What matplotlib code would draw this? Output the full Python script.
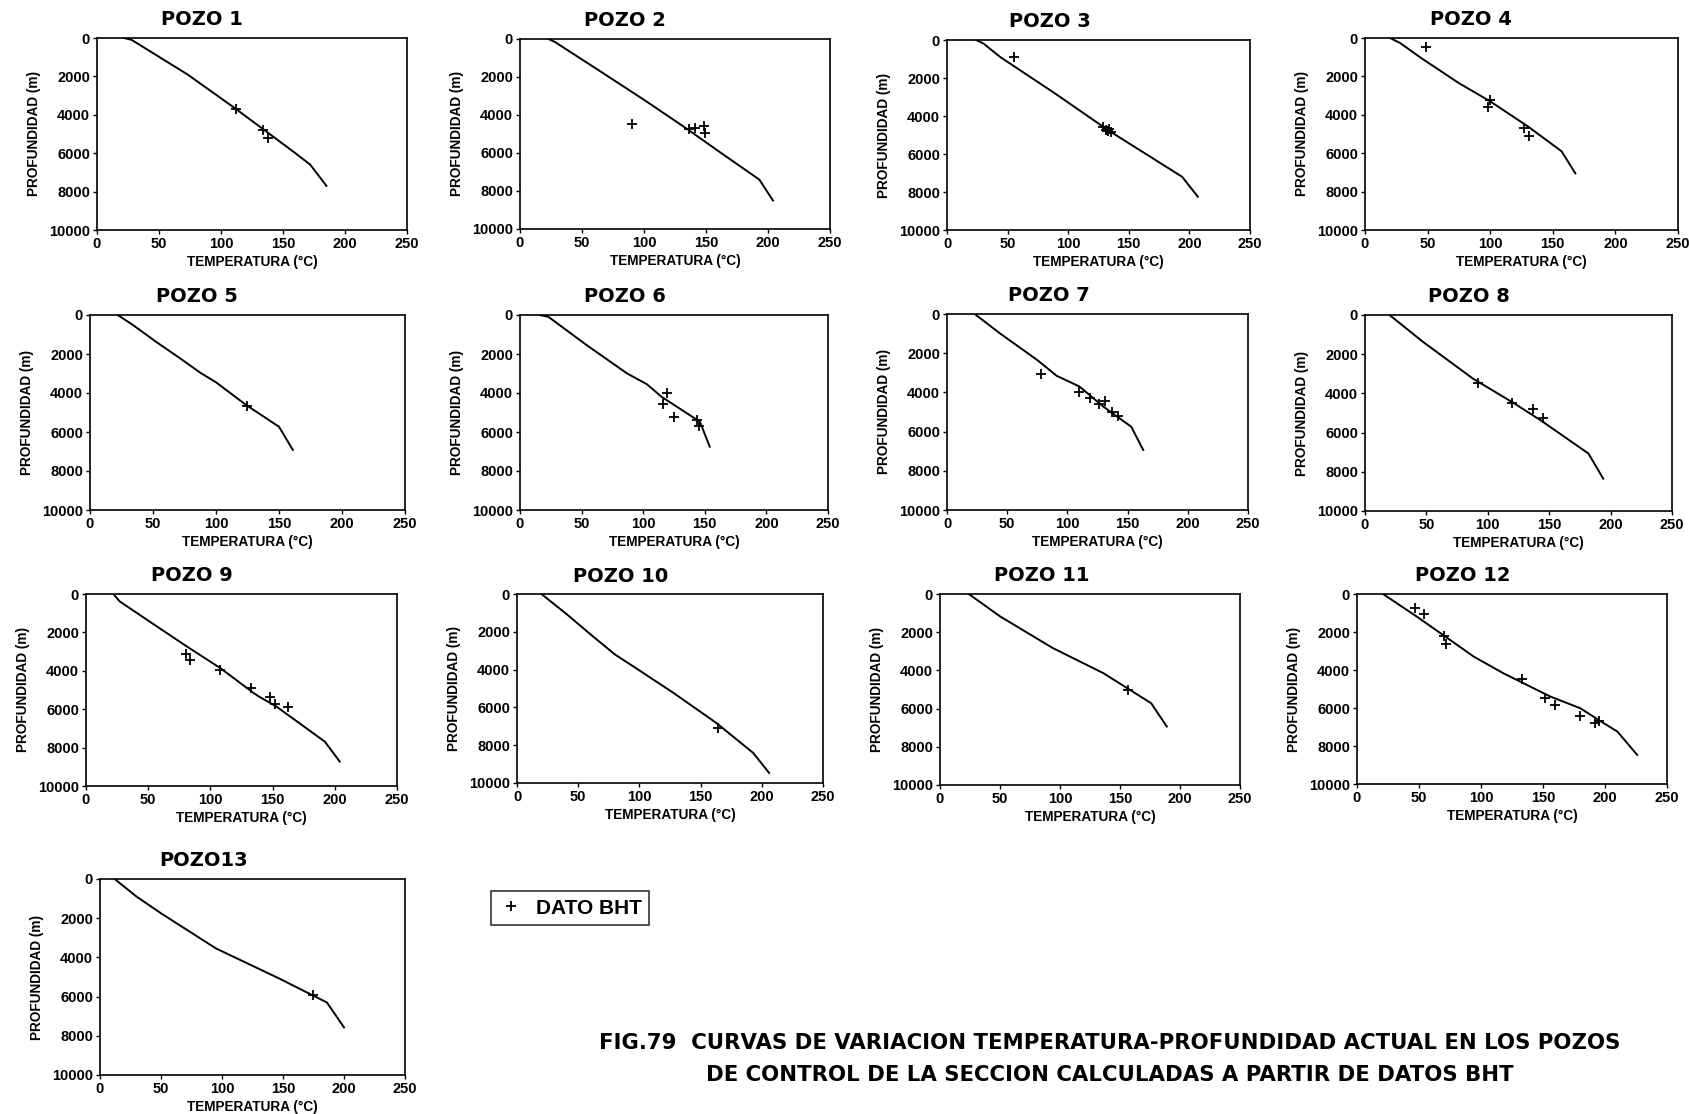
import matplotlib
matplotlib.use('Agg')
import matplotlib.pyplot as plt
from matplotlib.lines import Line2D

plt.rcParams['font.family'] = ['Liberation Sans Narrow', 'Liberation Sans', 'DejaVu Sans']

# curvas calculadas (temperatura C, profundidad m) y datos BHT
t1 = [22, 28, 73, 110, 134, 160, 172, 185]
p1 = [0, 100, 1900, 3600, 4750, 6000, 6600, 7700]
bt1 = [112, 134, 138]
bp1 = [3700, 4800, 5200]

t2 = [23, 28, 60, 100, 134, 160, 193, 204]
p2 = [0, 150, 1500, 3200, 4700, 5900, 7400, 8500]
bt2 = [90, 136, 141, 148, 149]
bp2 = [4470, 4730, 4690, 4570, 4960]

t3 = [24, 30, 44, 90, 133, 194, 207]
p3 = [0, 180, 900, 2850, 4750, 7200, 8250]
bt3 = [55, 129, 131, 133, 134, 135]
bp3 = [880, 4600, 4750, 4800, 4700, 4850]

t4 = [20, 28, 45, 75, 100, 130, 157, 168]
p4 = [0, 260, 1050, 2350, 3300, 4600, 5900, 7050]
bt4 = [49, 100, 98, 127, 131]
bp4 = [480, 3220, 3600, 4700, 5130]

t5 = [22, 34, 53, 71, 88, 100, 124, 150, 161]
p5 = [0, 510, 1400, 2200, 2980, 3450, 4620, 5730, 6920]
bt5 = [125]
bp5 = [4670]

t6 = [16, 23, 54, 87, 103, 115, 146, 154]
p6 = [0, 90, 1540, 3000, 3550, 4200, 5470, 6750]
bt6 = [119, 116, 125, 144, 145]
bp6 = [4020, 4580, 5210, 5380, 5680]

t7 = [23, 44, 75, 91, 110, 130, 153, 163]
p7 = [0, 990, 2350, 3150, 3700, 4730, 5750, 6940]
bt7 = [78, 110, 119, 126, 131, 137, 142]
bp7 = [3080, 4000, 4270, 4590, 4420, 5020, 5200]

t8 = [20, 47, 88, 120, 143, 182, 194]
p8 = [0, 1360, 3250, 4450, 5370, 7070, 8350]
bt8 = [92, 120, 137, 145]
bp8 = [3460, 4480, 4820, 5280]

t9 = [22, 27, 51, 81, 108, 135, 139, 153, 192, 204]
p9 = [0, 380, 1430, 2730, 3860, 5170, 5340, 5860, 7690, 8730]
bt9 = [80, 84, 108, 133, 148, 152, 162]
bp9 = [3130, 3430, 3950, 4900, 5390, 5720, 5860]

t10 = [20, 41, 62, 80, 95, 128, 163, 193, 206]
p10 = [0, 1090, 2240, 3200, 3830, 5240, 6830, 8410, 9470]
bt10 = [164]
bp10 = [7090]

t11 = [24, 50, 94, 136, 176, 189]
p11 = [0, 1170, 2830, 4140, 5720, 6940]
bt11 = [157]
bp11 = [5050]

t12 = [21, 48, 71, 94, 118, 156, 180, 199, 210, 226]
p12 = [0, 1180, 2230, 3290, 4170, 5400, 6010, 6800, 7240, 8470]
bt12 = [47, 54, 70, 72, 133, 152, 160, 180, 192, 195]
bp12 = [740, 1040, 2200, 2640, 4460, 5450, 5840, 6420, 6800, 6710]

t13 = [12, 30, 50, 95, 147, 186, 200]
p13 = [0, 900, 1750, 3540, 5080, 6300, 7570]
bt13 = [175]
bp13 = [5900]

titulos = ['POZO 1', 'POZO 2', 'POZO 3', 'POZO 4', 'POZO 5', 'POZO 6', 'POZO 7',
           'POZO 8', 'POZO 9', 'POZO 10', 'POZO 11', 'POZO 12', 'POZO13']
curvas = [(t1, p1, bt1, bp1), (t2, p2, bt2, bp2), (t3, p3, bt3, bp3), (t4, p4, bt4, bp4),
          (t5, p5, bt5, bp5), (t6, p6, bt6, bp6), (t7, p7, bt7, bp7), (t8, p8, bt8, bp8),
          (t9, p9, bt9, bp9), (t10, p10, bt10, bp10), (t11, p11, bt11, bp11),
          (t12, p12, bt12, bp12), (t13, p13, bt13, bp13)]
xticks = [0, 50, 100, 150, 200, 250]
yticks = [0, 2000, 4000, 6000, 8000, 10000]

W, H = 1690, 1114
# cajas de ejes en pixeles: izquierda, arriba, derecha, abajo
cajas = [(97, 38, 407, 230), (520, 39, 830, 229), (947, 40, 1250, 230), (1365, 38, 1678, 230),
         (90, 315, 405, 510), (520, 315, 828, 510), (947, 314, 1248, 510), (1365, 315, 1672, 511),
         (86, 594, 397, 786), (517, 594, 823, 783), (940, 594, 1240, 785), (1357, 594, 1667, 784),
         (100, 879, 405, 1075)]

fuente = ['Liberation Sans', 'DejaVu Sans']
ancha = ['DejaVu Sans']

fig = plt.figure(figsize=(W / 100, H / 100), dpi=100)

for i, (l, t, r, b) in enumerate(cajas):
    ax = fig.add_axes([l / W, 1 - b / H, (r - l) / W, (b - t) / H])
    temp, prof, btemp, bprof = curvas[i]
    ax.plot(temp, prof, color='black', lw=1.4)
    ax.plot(btemp, bprof, ls='none', marker='+', ms=7, mew=1.3, color='black')
    ax.set_xlim(0, 250)
    ax.set_ylim(10000, 0)
    ax.set_xticks(xticks)
    ax.set_yticks(yticks)
    ax.tick_params(direction='out', length=3, width=1, pad=2)
    for lab in ax.get_xticklabels() + ax.get_yticklabels():
        lab.set_fontweight('bold')
        lab.set_fontsize(10.5)
        lab.set_family(fuente)
    for s in ax.spines.values():
        s.set_linewidth(1.2)
    ax.set_xlabel('TEMPERATURA (°C)', fontsize=9.8, fontweight='bold', labelpad=3)
    ax.set_ylabel('PROFUNDIDAD (m)', fontsize=9.8, fontweight='bold', labelpad=6)
    ax.text(0.34, 1.095, titulos[i], transform=ax.transAxes, ha='center', va='center',
            fontsize=14, fontweight='bold', family=ancha)

# leyenda
h = Line2D([], [], ls='none', marker='+', ms=7, mew=1.3, color='black')
leg = fig.legend([h], ['DATO BHT'], loc='center left',
                 bbox_to_anchor=(481 / W, 1 - 908 / H), frameon=True, fancybox=False,
                 prop={'family': fuente, 'weight': 'bold', 'size': 15},
                 handlelength=1.2, borderpad=0.35, handletextpad=0.6)
leg.get_frame().set_edgecolor('black')
leg.get_frame().set_linewidth(1.2)

fig.text(1110 / W, 1 - 1043 / H,
         'FIG.79  CURVAS DE VARIACION TEMPERATURA-PROFUNDIDAD ACTUAL EN LOS POZOS',
         ha='center', va='center', fontsize=15.3, fontweight='bold', family=ancha)
fig.text(1110 / W, 1 - 1075 / H,
         'DE CONTROL DE LA SECCION CALCULADAS A PARTIR DE DATOS BHT',
         ha='center', va='center', fontsize=15.3, fontweight='bold', family=ancha)

fig.savefig('out.png', dpi=100, facecolor='white')
